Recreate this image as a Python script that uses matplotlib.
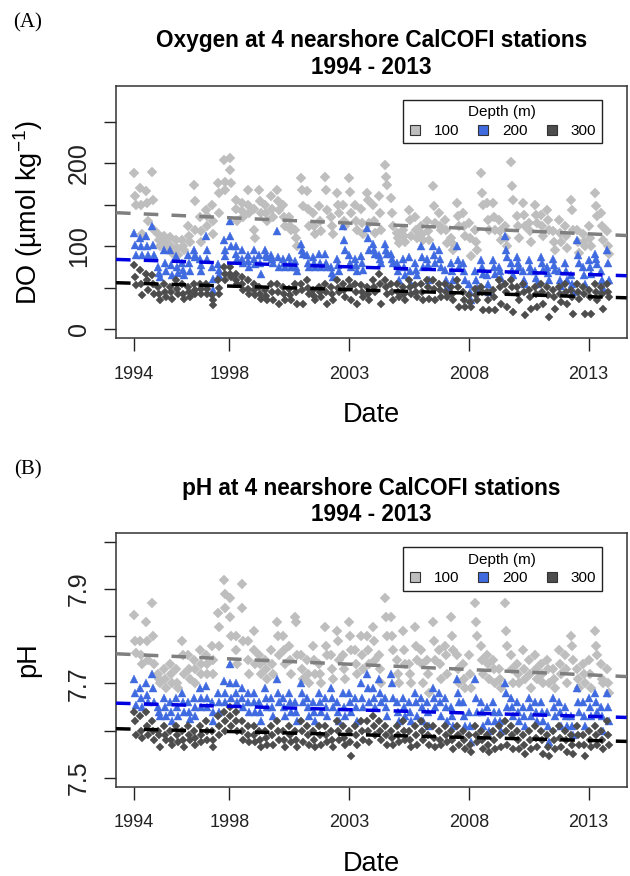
import numpy as np
import matplotlib.pyplot as plt
from matplotlib.lines import Line2D

plt.rcParams['font.family'] = ['Liberation Sans', 'DejaVu Sans']
plt.rcParams['mathtext.fontset'] = 'custom'
plt.rcParams['mathtext.rm'] = 'Liberation Sans'
plt.rcParams['mathtext.it'] = 'Liberation Sans:italic'

# Cruise dates: quarterly CalCOFI cruises (Jan, Apr, Jul, Oct)
years = list(range(1994, 2014))
cruise_months = [1, 4, 7, 10]
# the stations of one cruise are occupied over a couple of weeks
station_day_offsets = [-14, 0, 14]

depths = ['100', '200', '300']

# Dissolved oxygen (umol/kg), three stations per cruise
do_100 = [
    (188, 160, 150), (170, 150, 115), (166, 152, 130), (190, 156, 120),
    (115, 108, 100), (112, 105, 98), (111, 100, 92), (107, 98, 90),
    (107, 100, 95), (124, 112, 105), (174, 154, 120), (135, 118, 105),
    (144, 136, 125), (150, 130, 115), (176, 164, 140), (204, 178, 168),
    (206, 192, 176), (156, 145, 130), (152, 142, 135), (168, 150, 140),
    (145, 120, 110), (168, 155, 140), (150, 140, 130), (160, 145, 135),
    (168, 155, 144), (150, 135, 124), (135, 125, 120), (120, 110, 100),
    (182, 168, 148), (166, 145, 125), (140, 125, 115), (148, 130, 118),
    (184, 168, 144), (135, 125, 115), (164, 150, 140), (150, 130, 124),
    (182, 165, 140), (150, 130, 120), (145, 128, 115), (164, 156, 128),
    (150, 130, 116), (160, 140, 120), (198, 184, 174), (158, 140, 125),
    (116, 110, 104), (120, 112, 105), (144, 132, 112), (135, 120, 110),
    (124, 115, 108), (130, 118, 108), (172, 148, 128), (140, 125, 120),
    (132, 120, 104), (110, 104, 95), (152, 136, 125), (140, 125, 112),
    (128, 110, 88), (120, 105, 95), (188, 164, 150), (152, 132, 120),
    (152, 135, 120), (132, 118, 108), (125, 110, 100), (202, 172, 156),
    (136, 125, 110), (152, 138, 125), (128, 118, 105), (150, 138, 128),
    (138, 125, 112), (144, 132, 120), (118, 105, 95), (132, 116, 105),
    (125, 112, 98), (156, 144, 120), (120, 105, 92), (115, 105, 100),
    (125, 110, 100), (164, 148, 136), (140, 125, 108), (118, 100, 91),
]
do_200 = [
    (116, 101, 89), (110, 100, 89), (112, 100, 89), (124, 101, 90),
    (75, 68, 63), (95, 80, 70), (95, 78, 65), (88, 75, 68),
    (80, 72, 65), (90, 80, 70), (95, 90, 87), (85, 78, 70),
    (112, 95, 85), (75, 61, 47), (79, 72, 65), (107, 95, 88),
    (130, 112, 100), (100, 91, 85), (95, 85, 80), (90, 82, 75),
    (95, 85, 79), (90, 80, 67), (95, 90, 87), (90, 85, 80),
    (118, 87, 75), (85, 80, 75), (87, 80, 75), (82, 75, 70),
    (103, 95, 91), (90, 80, 75), (87, 80, 75), (91, 80, 75),
    (91, 80, 75), (75, 68, 63), (85, 78, 70), (124, 108, 95),
    (90, 80, 75), (85, 78, 70), (88, 80, 72), (122, 110, 95),
    (103, 95, 91), (90, 85, 80), (103, 95, 91), (91, 85, 80),
    (80, 70, 60), (85, 75, 65), (87, 70, 55), (80, 72, 65),
    (100, 87, 75), (85, 78, 60), (100, 90, 80), (95, 85, 75),
    (71, 60, 51), (80, 70, 60), (100, 83, 75), (80, 70, 60),
    (55, 45, 35), (70, 60, 50), (83, 75, 67), (65, 55, 45),
    (83, 75, 67), (75, 70, 62), (112, 95, 87), (80, 72, 65),
    (87, 80, 75), (70, 60, 55), (83, 75, 70), (70, 62, 55),
    (87, 80, 72), (75, 68, 60), (85, 78, 72), (70, 60, 52),
    (80, 70, 60), (65, 55, 45), (108, 90, 80), (75, 65, 55),
    (83, 75, 67), (91, 85, 79), (70, 60, 50), (95, 80, 60),
]
do_300 = [
    (77, 63, 53), (71, 55, 41), (67, 59, 47), (65, 55, 43),
    (51, 43, 35), (55, 45, 39), (51, 45, 37), (59, 48, 43),
    (55, 43, 37), (51, 45, 39), (55, 47, 43), (55, 49, 43),
    (55, 49, 43), (41, 35, 29), (59, 50, 43), (75, 67, 59),
    (75, 67, 63), (67, 59, 55), (63, 55, 47), (59, 49, 43),
    (55, 47, 41), (51, 43, 37), (47, 40, 35), (55, 45, 35),
    (55, 45, 31), (51, 43, 35), (49, 41, 35), (55, 45, 31),
    (55, 47, 31), (59, 50, 43), (47, 40, 35), (51, 45, 39),
    (55, 45, 31), (51, 43, 35), (59, 50, 45), (55, 47, 39),
    (59, 51, 35), (55, 45, 31), (53, 45, 39), (51, 43, 35),
    (59, 51, 45), (67, 55, 31), (59, 51, 43), (55, 45, 35),
    (55, 45, 39), (51, 43, 35), (59, 51, 43), (53, 45, 39),
    (55, 45, 35), (59, 51, 37), (59, 49, 35), (55, 47, 39),
    (55, 45, 39), (51, 43, 35), (59, 51, 27), (45, 35, 27),
    (41, 33, 27), (49, 41, 35), (51, 45, 23), (45, 35, 23),
    (47, 39, 23), (59, 51, 31), (55, 45, 27), (59, 51, 21),
    (51, 43, 35), (55, 45, 17), (47, 39, 25), (51, 43, 27),
    (55, 45, 31), (51, 41, 15), (47, 39, 25), (51, 43, 33),
    (55, 45, 31), (47, 39, 19), (55, 45, 37), (51, 43, 19),
    (47, 39, 19), (55, 45, 35), (51, 43, 25), (55, 45, 39),
]

# pH, three stations per cruise
ph_100 = [
    (7.845, 7.79, 7.765), (7.79, 7.76, 7.74), (7.83, 7.79, 7.75), (7.87, 7.80, 7.74),
    (7.72, 7.71, 7.70), (7.73, 7.71, 7.69), (7.74, 7.72, 7.70), (7.73, 7.70, 7.69),
    (7.79, 7.76, 7.72), (7.76, 7.73, 7.71), (7.75, 7.73, 7.70), (7.77, 7.74, 7.72),
    (7.76, 7.74, 7.72), (7.78, 7.75, 7.72), (7.85, 7.82, 7.78), (7.92, 7.89, 7.86),
    (7.88, 7.84, 7.80), (7.80, 7.77, 7.74), (7.91, 7.86, 7.79), (7.79, 7.75, 7.72),
    (7.81, 7.77, 7.74), (7.76, 7.74, 7.72), (7.75, 7.73, 7.71), (7.77, 7.74, 7.72),
    (7.83, 7.80, 7.76), (7.80, 7.77, 7.74), (7.78, 7.75, 7.72), (7.84, 7.83, 7.76),
    (7.76, 7.73, 7.71), (7.75, 7.72, 7.70), (7.78, 7.75, 7.72), (7.74, 7.72, 7.70),
    (7.82, 7.78, 7.76), (7.76, 7.73, 7.71), (7.81, 7.79, 7.75), (7.76, 7.73, 7.71),
    (7.83, 7.80, 7.77), (7.77, 7.74, 7.72), (7.80, 7.76, 7.73), (7.80, 7.77, 7.74),
    (7.82, 7.79, 7.75), (7.76, 7.73, 7.70), (7.88, 7.84, 7.80), (7.84, 7.80, 7.77),
    (7.75, 7.72, 7.70), (7.81, 7.77, 7.74), (7.74, 7.72, 7.70), (7.82, 7.78, 7.75),
    (7.77, 7.74, 7.70), (7.75, 7.72, 7.68), (7.83, 7.79, 7.75), (7.77, 7.74, 7.71),
    (7.78, 7.76, 7.72), (7.84, 7.80, 7.77), (7.76, 7.73, 7.70), (7.74, 7.71, 7.69),
    (7.76, 7.72, 7.69), (7.87, 7.83, 7.80), (7.78, 7.75, 7.72), (7.76, 7.74, 7.71),
    (7.75, 7.73, 7.70), (7.73, 7.71, 7.69), (7.87, 7.81, 7.78), (7.76, 7.73, 7.70),
    (7.74, 7.72, 7.70), (7.77, 7.73, 7.71), (7.75, 7.72, 7.69), (7.76, 7.73, 7.71),
    (7.74, 7.72, 7.70), (7.75, 7.73, 7.70), (7.73, 7.71, 7.69), (7.77, 7.74, 7.72),
    (7.76, 7.73, 7.70), (7.80, 7.78, 7.75), (7.73, 7.71, 7.69), (7.74, 7.72, 7.70),
    (7.75, 7.72, 7.69), (7.81, 7.78, 7.76), (7.74, 7.71, 7.70), (7.73, 7.70, 7.68),
]
ph_200 = [
    (7.71, 7.68, 7.655), (7.69, 7.67, 7.65), (7.70, 7.675, 7.66), (7.72, 7.69, 7.66),
    (7.65, 7.64, 7.63), (7.67, 7.65, 7.63), (7.66, 7.64, 7.62), (7.67, 7.65, 7.63),
    (7.68, 7.66, 7.64), (7.66, 7.64, 7.625), (7.67, 7.65, 7.63), (7.69, 7.67, 7.65),
    (7.695, 7.67, 7.65), (7.66, 7.64, 7.62), (7.68, 7.66, 7.64), (7.705, 7.68, 7.66),
    (7.74, 7.70, 7.67), (7.70, 7.68, 7.66), (7.69, 7.67, 7.65), (7.68, 7.66, 7.64),
    (7.68, 7.66, 7.64), (7.66, 7.64, 7.62), (7.69, 7.67, 7.65), (7.67, 7.65, 7.63),
    (7.71, 7.68, 7.66), (7.67, 7.65, 7.63), (7.68, 7.66, 7.64), (7.66, 7.64, 7.62),
    (7.70, 7.68, 7.66), (7.67, 7.65, 7.63), (7.66, 7.64, 7.62), (7.68, 7.66, 7.64),
    (7.67, 7.65, 7.63), (7.69, 7.67, 7.65), (7.66, 7.64, 7.62), (7.68, 7.65, 7.63),
    (7.68, 7.66, 7.64), (7.67, 7.65, 7.62), (7.70, 7.67, 7.65), (7.72, 7.69, 7.66),
    (7.69, 7.67, 7.65), (7.71, 7.68, 7.66), (7.67, 7.65, 7.63), (7.72, 7.70, 7.67),
    (7.66, 7.64, 7.62), (7.67, 7.65, 7.63), (7.66, 7.64, 7.62), (7.68, 7.66, 7.63),
    (7.67, 7.65, 7.62), (7.66, 7.64, 7.61), (7.69, 7.67, 7.65), (7.68, 7.66, 7.63),
    (7.67, 7.65, 7.62), (7.65, 7.63, 7.61), (7.71, 7.68, 7.66), (7.66, 7.63, 7.61),
    (7.64, 7.61, 7.575), (7.71, 7.67, 7.64), (7.66, 7.64, 7.61), (7.65, 7.62, 7.60),
    (7.66, 7.64, 7.62), (7.64, 7.62, 7.60), (7.70, 7.68, 7.65), (7.67, 7.65, 7.63),
    (7.66, 7.64, 7.62), (7.65, 7.63, 7.61), (7.67, 7.65, 7.63), (7.66, 7.64, 7.62),
    (7.66, 7.64, 7.62), (7.64, 7.61, 7.575), (7.67, 7.65, 7.63), (7.66, 7.64, 7.61),
    (7.65, 7.63, 7.61), (7.63, 7.61, 7.59), (7.69, 7.66, 7.64), (7.66, 7.63, 7.61),
    (7.67, 7.65, 7.63), (7.68, 7.66, 7.64), (7.65, 7.63, 7.60), (7.68, 7.65, 7.62),
]
ph_300 = [
    (7.64, 7.62, 7.59), (7.63, 7.60, 7.585), (7.64, 7.61, 7.59), (7.62, 7.60, 7.58),
    (7.60, 7.59, 7.565), (7.61, 7.59, 7.58), (7.60, 7.58, 7.57), (7.61, 7.59, 7.575),
    (7.60, 7.58, 7.565), (7.61, 7.59, 7.58), (7.60, 7.585, 7.57), (7.61, 7.59, 7.575),
    (7.62, 7.60, 7.58), (7.60, 7.58, 7.565), (7.63, 7.61, 7.59), (7.64, 7.62, 7.60),
    (7.65, 7.63, 7.61), (7.64, 7.62, 7.60), (7.62, 7.60, 7.58), (7.61, 7.59, 7.575),
    (7.61, 7.59, 7.575), (7.60, 7.58, 7.565), (7.60, 7.585, 7.57), (7.61, 7.59, 7.57),
    (7.62, 7.60, 7.58), (7.60, 7.58, 7.565), (7.61, 7.59, 7.575), (7.60, 7.58, 7.565),
    (7.62, 7.60, 7.575), (7.61, 7.59, 7.57), (7.60, 7.58, 7.565), (7.61, 7.59, 7.57),
    (7.61, 7.59, 7.575), (7.60, 7.58, 7.565), (7.62, 7.60, 7.58), (7.61, 7.585, 7.57),
    (7.60, 7.575, 7.545), (7.61, 7.59, 7.57), (7.62, 7.60, 7.58), (7.62, 7.60, 7.575),
    (7.63, 7.61, 7.59), (7.62, 7.60, 7.58), (7.61, 7.59, 7.57), (7.60, 7.585, 7.57),
    (7.61, 7.59, 7.575), (7.62, 7.60, 7.58), (7.60, 7.58, 7.565), (7.61, 7.59, 7.57),
    (7.62, 7.60, 7.58), (7.61, 7.59, 7.57), (7.61, 7.585, 7.565), (7.60, 7.58, 7.57),
    (7.61, 7.59, 7.575), (7.60, 7.58, 7.56), (7.61, 7.59, 7.57), (7.60, 7.58, 7.56),
    (7.59, 7.57, 7.555), (7.61, 7.59, 7.575), (7.60, 7.58, 7.56), (7.59, 7.57, 7.555),
    (7.60, 7.58, 7.56), (7.61, 7.59, 7.565), (7.62, 7.60, 7.57), (7.61, 7.59, 7.56),
    (7.60, 7.58, 7.56), (7.59, 7.57, 7.55), (7.60, 7.58, 7.56), (7.61, 7.585, 7.565),
    (7.60, 7.58, 7.55), (7.59, 7.565, 7.545), (7.60, 7.58, 7.56), (7.61, 7.585, 7.565),
    (7.60, 7.58, 7.555), (7.59, 7.57, 7.55), (7.61, 7.59, 7.57), (7.59, 7.57, 7.545),
    (7.60, 7.58, 7.565), (7.61, 7.59, 7.57), (7.60, 7.58, 7.56), (7.62, 7.59, 7.57),
]

# Linear trend lines, value at start of 1994 and 2013
do_trend_1994 = [139.5, 83.5, 55.5]
do_trend_2013 = [115.0, 66.0, 39.3]
ph_trend_1994 = [7.761, 7.657, 7.603]
ph_trend_2013 = [7.718, 7.630, 7.579]

xtick_years = [1994, 1998, 2003, 2008, 2013]

# styling
pt_colors = ['#bebebe', '#3f6ae0', '#4d4d4d']
pt_markers = ['D', '^', 'D']
pt_sizes = [5.2, 6.3, 4.2]
line_colors = ['#7f7f7f', '#0000e0', '#000000']

W, H = 630, 876
fig = plt.figure(figsize=(W / 100, H / 100), dpi=100)

dates = np.array([y + (m - 0.5) / 12 for y in years for m in cruise_months])
offsets = np.array(station_day_offsets) / 365.0


def fx(px):
    return px / W


def fy(py):
    return 1 - py / H


def panel(top, bottom, label, title, ylab, series, t94, t13, ylim, yticks, ylabels):
    ax = fig.add_axes([fx(116), fy(bottom), fx(626.7 - 116), (bottom - top) / H])
    for i, vals in enumerate(series):
        v = np.array(vals)
        xs = (dates[:, None] + offsets[None, :]).ravel()
        ax.plot(xs, v.ravel(), ls='', marker=pt_markers[i], ms=pt_sizes[i],
                mfc=pt_colors[i], mec=pt_colors[i], mew=0.3)
    for i in range(3):
        ax.axline((1994, t94[i]), (2013, t13[i]), color=line_colors[i], lw=2.5,
                  ls=(0, (4.2, 3.8)), zorder=5)
    ax.set_xlim(1993.26, 2014.59)
    ax.set_ylim(*ylim)
    ax.set_xticks(xtick_years)
    ax.set_xticklabels([str(y) for y in xtick_years], fontsize=13)
    ax.set_yticks(yticks)
    ax.set_yticklabels(ylabels, fontsize=18, rotation=90, va='center')
    ax.tick_params(axis='x', length=9, width=1, pad=11, colors='#222222')
    ax.tick_params(axis='y', length=9, width=1, pad=9, colors='#222222')
    for s in ax.spines.values():
        s.set_color('#333333')
        s.set_linewidth(1.1)

    handles = [Line2D([], [], ls='', marker='s', ms=7, mfc=pt_colors[i], mec='#333333', mew=0.8)
               for i in range(3)]
    ax.legend(handles, depths, title='Depth (m)', ncol=3, loc='upper right',
              bbox_to_anchor=(0.951, 1 - 14 / (bottom - top)), borderaxespad=0,
              fontsize=11, title_fontsize=11, handlelength=0.9, handletextpad=0.8,
              columnspacing=1.1, borderpad=0.35, labelspacing=0.3,
              fancybox=False, framealpha=1, edgecolor='#222222')
    ax.get_legend().get_frame().set_linewidth(1.0)

    mid = (116 + 626.7) / 2
    fig.text(fx(mid), fy(top - 45), title[0], ha='center', va='center',
             fontsize=16.3, fontweight='bold')
    fig.text(fx(mid), fy(top - 19), title[1], ha='center', va='center',
             fontsize=16.3, fontweight='bold')
    fig.text(fx(28), fy(top - 63), label, ha='center', va='center',
             fontsize=15, family='Liberation Serif')
    fig.text(fx(mid), fy(bottom + 77), 'Date', ha='center', va='center', fontsize=19.5)
    fig.text(fx(28), fy((top + bottom) / 2), ylab, ha='center', va='center',
             fontsize=19.5, rotation=90)
    return ax


panel(86, 338.3, '(A)', ['Oxygen at 4 nearshore CalCOFI stations', '1994 - 2013'],
      'DO (µmol kg$^{-1}$)', [do_100, do_200, do_300], do_trend_1994, do_trend_2013,
      (-10.8, 293), [0, 50, 100, 150, 200, 250], ['0', '', '100', '', '200', ''])

panel(533.3, 786.7, '(B)', ['pH at 4 nearshore CalCOFI stations', '1994 - 2013'],
      'pH', [ph_100, ph_200, ph_300], ph_trend_1994, ph_trend_2013,
      (7.481, 8.018), [7.5, 7.6, 7.7, 7.8, 7.9, 8.0], ['7.5', '', '7.7', '', '7.9', ''])

fig.savefig('out.png', dpi=100)
